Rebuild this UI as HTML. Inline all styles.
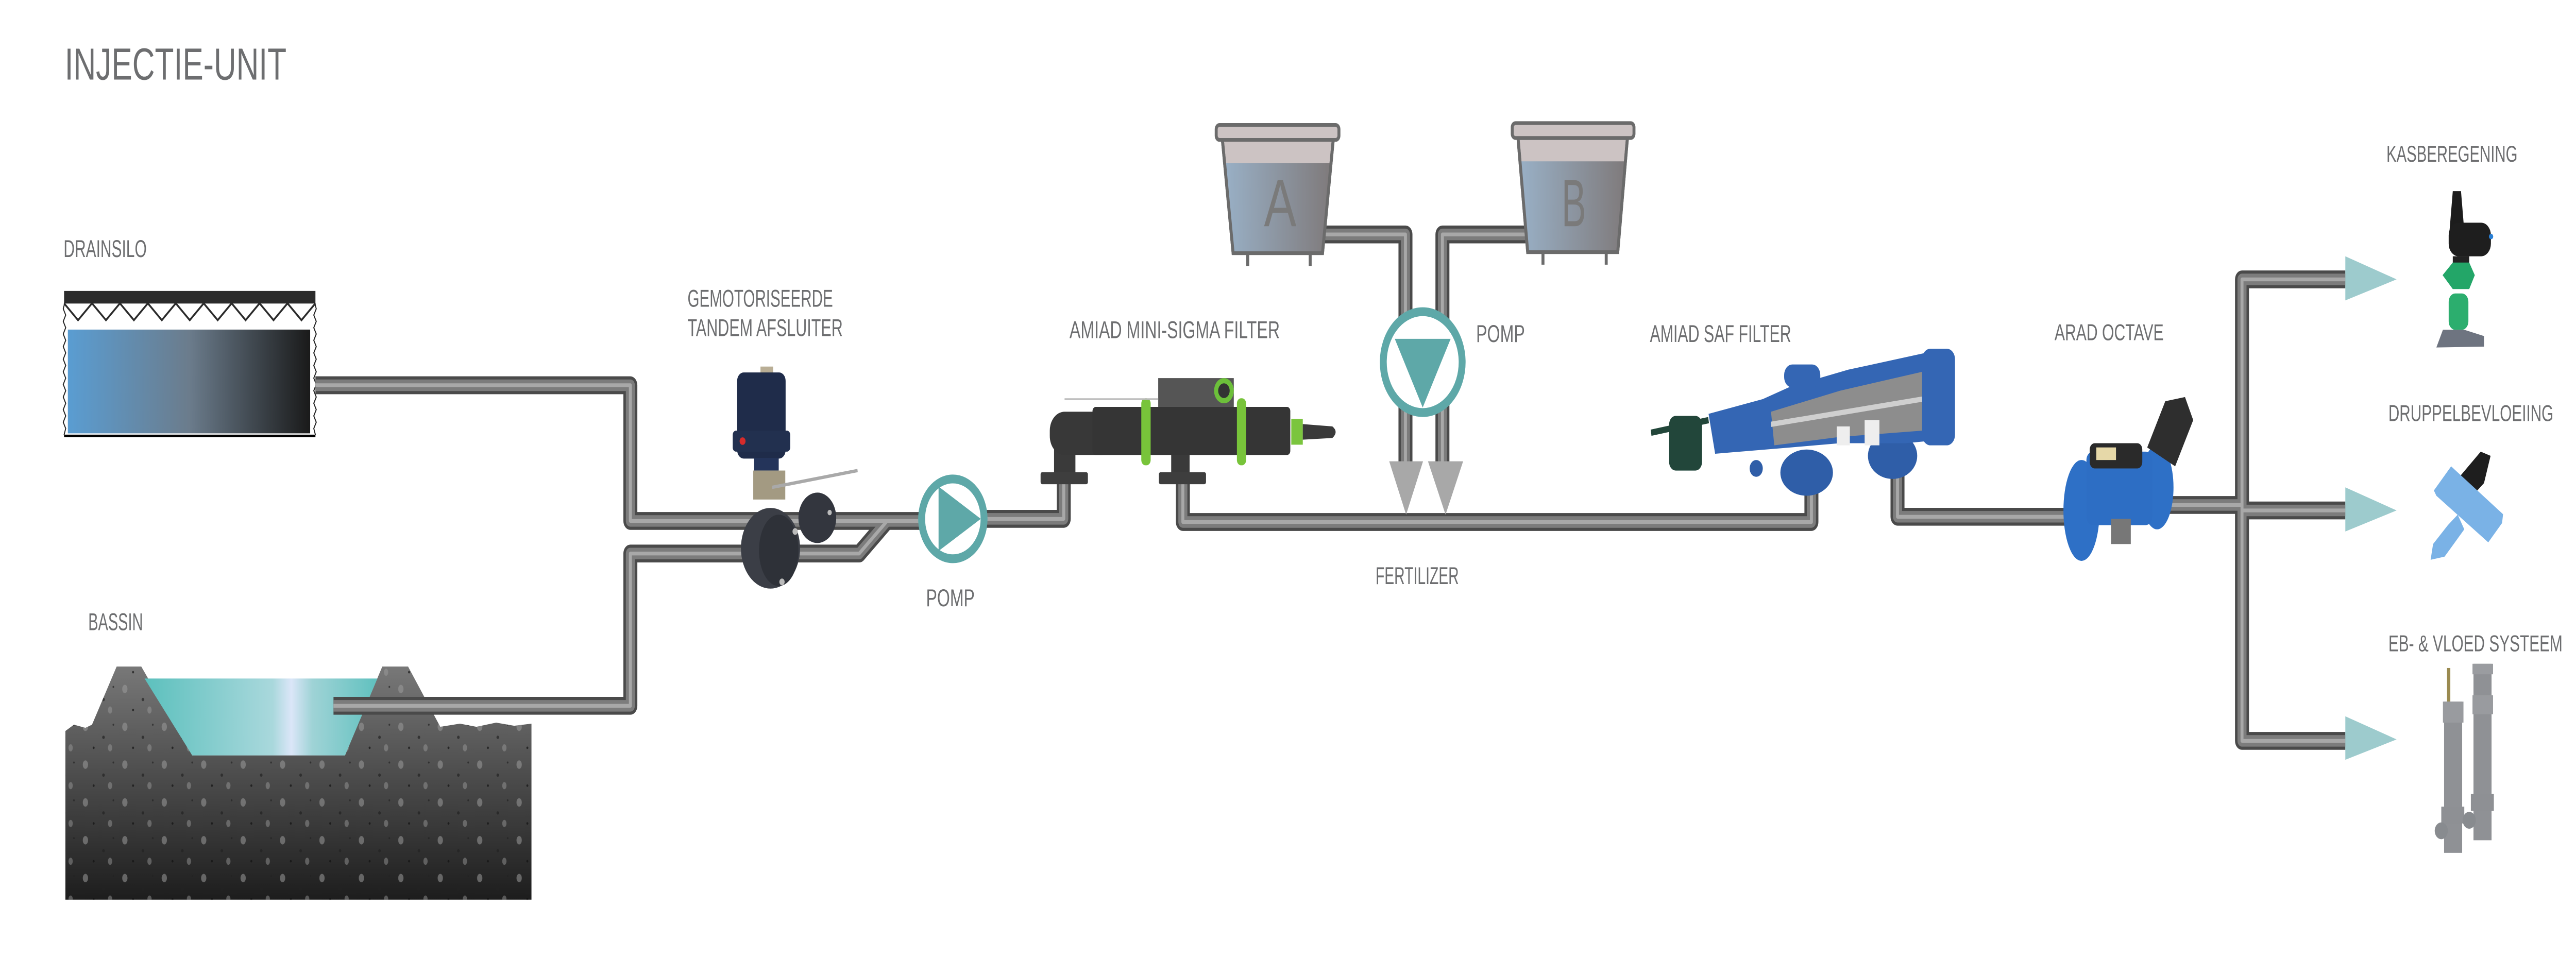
<!DOCTYPE html>
<html><head><meta charset="utf-8"><style>
html,body{margin:0;padding:0;background:#fff;width:100%;height:100%;overflow:hidden;}
svg{display:block;position:fixed;left:0;top:0;width:100vw;height:100vh;}
text{font-family:"Liberation Sans",sans-serif;fill:#6d6e70;}
</style></head><body>
<svg viewBox="0 0 1568 464.15" preserveAspectRatio="none" xmlns="http://www.w3.org/2000/svg">
<defs>
<linearGradient id="silo" x1="0" x2="1" y1="0" y2="0"><stop offset="0" stop-color="#5a9dd2"/><stop offset="0.5" stop-color="#6b7c8c"/><stop offset="1" stop-color="#1a1a1a"/></linearGradient>
<linearGradient id="water" x1="0" x2="1"><stop offset="0" stop-color="#5cc0bd"/><stop offset="0.55" stop-color="#a9d8dc"/><stop offset="0.63" stop-color="#dbe6f8"/><stop offset="0.72" stop-color="#9fd3d6"/><stop offset="1" stop-color="#60c1bf"/></linearGradient>
<linearGradient id="ground" x1="0" x2="0" y1="0" y2="1"><stop offset="0" stop-color="#787878"/><stop offset="0.45" stop-color="#4e4e4e"/><stop offset="1" stop-color="#1d1d1d"/></linearGradient>
<linearGradient id="tank" x1="0" x2="1"><stop offset="0" stop-color="#99b0c6"/><stop offset="1" stop-color="#7f7a7b"/></linearGradient>
<pattern id="dots" width="24" height="18" patternUnits="userSpaceOnUse">
<ellipse cx="4" cy="4" rx="1.6" ry="2" fill="#9a9a9a" opacity=".55"/>
<circle cx="15" cy="9" r="0.8" fill="#222" opacity=".7"/>
<ellipse cx="19" cy="14" rx="1.3" ry="1.7" fill="#a0a0a0" opacity=".45"/>
<circle cx="9" cy="14" r="0.6" fill="#111" opacity=".7"/>
<circle cx="21" cy="3" r="0.5" fill="#222" opacity=".7"/>
</pattern>
</defs>

<text x="39.4" y="37.9" font-size="21.5" textLength="135" lengthAdjust="spacingAndGlyphs">INJECTIE-UNIT</text>

<text x="38.7" y="122.3" font-size="11.5" textLength="50.6" lengthAdjust="spacingAndGlyphs">DRAINSILO</text>
<text x="418.5" y="146" font-size="11.5" textLength="88.5" lengthAdjust="spacingAndGlyphs">GEMOTORISEERDE</text>
<text x="418.5" y="160" font-size="11.5" textLength="94.5" lengthAdjust="spacingAndGlyphs">TANDEM AFSLUITER</text>
<text x="53.7" y="300" font-size="11.5" textLength="33.3" lengthAdjust="spacingAndGlyphs">BASSIN</text>
<text x="563.7" y="288.6" font-size="11.5" textLength="29.6" lengthAdjust="spacingAndGlyphs">POMP</text>
<text x="651" y="161" font-size="11.5" textLength="128" lengthAdjust="spacingAndGlyphs">AMIAD MINI-SIGMA FILTER</text>
<text x="898.5" y="162.8" font-size="11.5" textLength="29.7" lengthAdjust="spacingAndGlyphs">POMP</text>
<text x="1004.3" y="162.8" font-size="11.5" textLength="86" lengthAdjust="spacingAndGlyphs">AMIAD SAF FILTER</text>
<text x="837.3" y="278" font-size="11.5" textLength="50.7" lengthAdjust="spacingAndGlyphs">FERTILIZER</text>
<text x="1250.6" y="162" font-size="11" textLength="66.4" lengthAdjust="spacingAndGlyphs">ARAD OCTAVE</text>
<text x="1452.6" y="77" font-size="11" textLength="79.8" lengthAdjust="spacingAndGlyphs">KASBEREGENING</text>
<text x="1453.8" y="200.4" font-size="11" textLength="100.5" lengthAdjust="spacingAndGlyphs">DRUPPELBEVLOEIING</text>
<text x="1453.8" y="310" font-size="11" textLength="106" lengthAdjust="spacingAndGlyphs">EB- &amp; VLOED SYSTEEM</text>

<rect x="39" y="138.5" width="153" height="6" fill="#2b2b2b"/>
<polyline points="39,144.4 47.5,152.4 56,144.4 64.5,152.4 73,144.4 81.5,152.4 90,144.4 98.5,152.4 107,144.4 115.5,152.4 124,144.4 132.5,152.4 141,144.4 149.5,152.4 158,144.4 166.5,152.4 175,144.4 183.5,152.4 192,144.4" fill="none" stroke="#2b2b2b" stroke-width="1"/>
<rect x="41.3" y="156.9" width="147.5" height="49.4" fill="url(#silo)"/>
<line x1="39" y1="207.5" x2="192" y2="207.5" stroke="#000" stroke-width="1.2"/>
<polyline points="39.5,144 38.5,147 40,150 38.5,153 40,156 38.5,159 40,162 38.5,165 40,168 38.5,171 40,174 38.5,177 40,180 38.5,183 40,186 38.5,189 40,192 38.5,195 40,198 38.5,201 40,204 39,207" fill="none" stroke="#222" stroke-width=".6"/>
<polyline points="191.5,144 192.5,147 191,150 192.5,153 191,156 192.5,159 191,162 192.5,165 191,168 192.5,171 191,174 192.5,177 191,180 192.5,183 191,186 192.5,189 191,192 192.5,195 191,198 192.5,201 191,204 192,207" fill="none" stroke="#222" stroke-width=".6"/>

<path d="M39.8,348 L45,345 L52,346.5 L56,345 L71,317.3 L86,317.3 L117,359.6 L210,359.6 L232.7,317.3 L248.4,317.3 L268,346 L280,344.5 L290,346 L302,344 L313,345.5 L323.5,344.5 L323.5,428.3 L39.8,428.3 Z" fill="url(#ground)"/>
<path d="M39.8,348 L45,345 L52,346.5 L56,345 L71,317.3 L86,317.3 L117,359.6 L210,359.6 L232.7,317.3 L248.4,317.3 L268,346 L280,344.5 L290,346 L302,344 L313,345.5 L323.5,344.5 L323.5,428.3 L39.8,428.3 Z" fill="url(#dots)"/>
<polygon points="88,323 229.7,323 210,359.6 117,359.6" fill="url(#water)"/>

<g fill="none" stroke-linejoin="round" stroke-linecap="butt">
<g stroke="#4a4a4a" stroke-width="8.5">
<path d="M192,183.4 H383.7 V248 H560"/>
<path d="M203,336 H383.7 V263.5 H523 L540,248"/>
<path d="M600,247 H647.5 V229"/>
<path d="M720,229 V248.5 H1102.6 V230"/>
<path d="M803,111.6 H855.5 V220"/>
<path d="M931,111.6 H878 V220"/>
<path d="M1155,225 V246 H1262"/>
<path d="M1318,240.4 H1364.7"/>
<path d="M1427.6,133 H1364.7 V352.7 H1427.6"/>
<path d="M1364.7,243 H1427.6"/>
</g>
<g stroke="#7c7c7c" stroke-width="5.5">
<path d="M192,183.4 H383.7 V248 H560"/>
<path d="M203,336 H383.7 V263.5 H523 L540,248"/>
<path d="M600,247 H647.5 V229"/>
<path d="M720,229 V248.5 H1102.6 V230"/>
<path d="M803,111.6 H855.5 V220"/>
<path d="M931,111.6 H878 V220"/>
<path d="M1155,225 V246 H1262"/>
<path d="M1318,240.4 H1364.7"/>
<path d="M1427.6,133 H1364.7 V352.7 H1427.6"/>
<path d="M1364.7,243 H1427.6"/>
</g>
<g stroke="#a8a8a8" stroke-width="1.8">
<path d="M192,183.4 H383.7 V248 H560"/>
<path d="M203,336 H383.7 V263.5 H523 L540,248"/>
<path d="M600,247 H647.5 V229"/>
<path d="M720,229 V248.5 H1102.6 V230"/>
<path d="M803,111.6 H855.5 V220"/>
<path d="M931,111.6 H878 V220"/>
<path d="M1155,225 V246 H1262"/>
<path d="M1318,240.4 H1364.7"/>
<path d="M1427.6,133 H1364.7 V352.7 H1427.6"/>
<path d="M1364.7,243 H1427.6"/>
</g>
</g>

<rect x="462.9" y="174.5" width="7.7" height="4" fill="#b9ae95"/>
<rect x="448.7" y="177.3" width="29.5" height="41" rx="4" fill="#1f2c4a"/>
<rect x="446" y="205" width="35" height="10" rx="2" fill="#22304f"/>
<circle cx="452" cy="210" r="1.8" fill="#d62b2b"/>
<rect x="459" y="218" width="15" height="6" fill="#24345a"/>
<rect x="458.5" y="224" width="19.5" height="13.8" fill="#a39a82"/>
<line x1="470" y1="232" x2="522" y2="224" stroke="#a9a9a9" stroke-width="1.6"/>
<ellipse cx="469" cy="261" rx="18" ry="19.2" fill="#3b3e46"/>
<ellipse cx="474" cy="262" rx="12" ry="17" fill="#2e3138"/>
<ellipse cx="497.5" cy="246.5" rx="11.5" ry="12" fill="#33363e"/>
<circle cx="484" cy="253" r="1.6" fill="#bbb"/><circle cx="476" cy="277" r="1.6" fill="#bbb"/><circle cx="505" cy="244" r="1.3" fill="#bbb"/>

<circle cx="580" cy="247" r="19" fill="#fff" stroke="#5ea8a8" stroke-width="4.2"/>
<polygon points="571.3,231.6 571.3,262.3 597,247" fill="#5ea8a8"/>

<rect x="641.6" y="210" width="13" height="15" fill="#3a3a3a"/>
<rect x="633.4" y="224.8" width="28.8" height="5.7" rx="1" fill="#3e3e3e"/>
<rect x="712.9" y="212" width="11.2" height="13" fill="#3a3a3a"/>
<rect x="705.4" y="224.8" width="28.7" height="5.7" rx="1" fill="#3e3e3e"/>
<rect x="639" y="196" width="40" height="20.6" rx="9" fill="#383838"/>
<rect x="665" y="193.7" width="120.4" height="22.9" rx="2" fill="#353535"/>
<rect x="705" y="180" width="46" height="13.7" fill="#555"/>
<circle cx="745" cy="186" r="6" fill="#6cbf3a"/>
<circle cx="745" cy="186" r="3.5" fill="#333"/>
<rect x="694.7" y="189.6" width="5.7" height="31.9" rx="2.5" fill="#78c43a"/>
<rect x="752.9" y="189.6" width="5.6" height="31.9" rx="2.5" fill="#78c43a"/>
<rect x="786" y="199.4" width="7" height="12.3" fill="#7bc53e"/>
<path d="M793,201.9 L811,203 Q815,205.6 811,208.5 L793,209.3 Z" fill="#3a3a3a"/>
<line x1="648" y1="190" x2="705" y2="190" stroke="#bbb" stroke-width=".8"/>

<g stroke="#6b6b6b" stroke-width="1.8">
<polygon points="744,66 811.6,66 805,120.5 750.6,120.5" fill="#ccc3c3"/>
<polygon points="745.2,77.6 810.4,77.6 805,120.5 750.6,120.5" fill="url(#tank)" stroke="none"/>
<polygon points="744,66 811.6,66 805,120.5 750.6,120.5" fill="none"/>
<rect x="740.3" y="59.5" width="74.7" height="7.1" rx="2" fill="#ccc3c3"/>
<line x1="759.5" y1="120.5" x2="759.5" y2="126.6"/><line x1="797.5" y1="120.5" x2="797.5" y2="126.6"/>
<polygon points="924,65.7 990.6,65.7 984.7,120 929.9,120" fill="#ccc3c3"/>
<polygon points="925,76.8 989.6,76.8 984.7,120 929.9,120" fill="url(#tank)" stroke="none"/>
<polygon points="924,65.7 990.6,65.7 984.7,120 929.9,120" fill="none"/>
<rect x="920.5" y="58.6" width="74.1" height="7.1" rx="2" fill="#ccc3c3"/>
<line x1="939.2" y1="120" x2="939.2" y2="126"/><line x1="977.7" y1="120" x2="977.7" y2="126"/>
</g>
<text x="769.4" y="107.7" font-size="32" textLength="19.7" lengthAdjust="spacingAndGlyphs" style="fill:#7a7a7a">A</text>
<text x="950.5" y="107.7" font-size="32" textLength="15" lengthAdjust="spacingAndGlyphs" style="fill:#7a7a7a">B</text>

<circle cx="866" cy="172.4" r="24" fill="#fff" stroke="#5ea8a8" stroke-width="4.2"/>
<polygon points="849,161.3 883,161.3 866,194" fill="#5ea8a8"/>
<polygon points="845.6,219.6 866.2,219.6 855.9,245" fill="#a8a8a8"/>
<polygon points="869.2,219.6 890.6,219.6 879.9,245" fill="#a8a8a8"/>

<ellipse cx="1099.7" cy="225" rx="16" ry="11" fill="#2f5ea8"/>
<ellipse cx="1152" cy="217" rx="15" ry="11" fill="#2f5ea8"/>
<polygon points="1040,197 1073,190 1090,184 1125,176 1172,168 1185,168 1186,209 1160,211 1120,211 1090,213 1044,216" fill="#3466b4"/>
<polygon points="1078,196 1120,186 1170,177 1170,205 1120,208 1080,212" fill="#8d8d8d"/>
<line x1="1078" y1="202" x2="1170" y2="190" stroke="#cfcfcf" stroke-width="2.5"/>
<rect x="1086" y="173.5" width="22" height="11" rx="5" fill="#3466b4"/>
<rect x="1170" y="166" width="20" height="46" rx="5" fill="#3466b4"/>
<rect x="1118" y="203" width="8" height="9" fill="#eee"/><rect x="1135" y="200" width="9" height="12" fill="#eee"/>
<rect x="1016" y="198" width="20" height="26" rx="4" fill="#22463a"/>
<line x1="1005" y1="206" x2="1040" y2="200" stroke="#22463a" stroke-width="3"/>
<circle cx="1069" cy="223" r="4" fill="#2f5ea8"/>

<ellipse cx="1267" cy="243" rx="11" ry="24" fill="#2e70c6"/>
<ellipse cx="1313" cy="232" rx="10" ry="20" fill="#2e70c6"/>
<rect x="1270" y="215" width="40" height="35" rx="4" fill="#2d6ec4"/>
<rect x="1272" y="211" width="32" height="12" rx="3" fill="#2a2a2a"/>
<rect x="1276" y="213" width="12" height="6" fill="#e6d8a8"/>
<polygon points="1307,213 1318,191 1330,189 1335,200 1324,222" fill="#2e2e2e"/>
<rect x="1285" y="247" width="12" height="12" fill="#777"/>

<polygon points="1427.6,122 1458.8,133 1427.6,143" fill="#9dcbcd"/>
<polygon points="1427.6,232 1458.8,243 1427.6,253" fill="#9dcbcd"/>
<polygon points="1427.6,341 1458.8,352 1427.6,361.7" fill="#9dcbcd"/>

<polygon points="1493,91 1498,91 1500,110 1491,110" fill="#1c1c1c"/>
<rect x="1490.5" y="106" width="25.7" height="16" rx="6" fill="#1e1e1e"/>
<circle cx="1516.3" cy="112.6" r="1.3" fill="#2a7fd4"/>
<rect x="1493" y="122" width="10" height="4" fill="#222"/>
<polygon points="1486.8,131 1493,125 1503,125 1506.4,131 1503,137.6 1493,137.6" fill="#23a668"/>
<rect x="1490.5" y="139.7" width="12" height="17.3" rx="4" fill="#2cae6e"/>
<polygon points="1483,165.4 1487,157 1500,157 1512,160 1512,165" fill="#6e7480"/>

<polygon points="1496,228 1510,215 1516,217 1512,230 1505,236" fill="#1e1e1e"/>
<polygon points="1481.5,233.5 1492,222 1523.6,244.8 1523,249 1514.6,258.2 1483,236" fill="#7ab2e6"/>
<polygon points="1490,250 1496,245 1500,252 1488,265 1479.5,266.5 1481,259" fill="#7ab2e6"/>

<rect x="1489.5" y="318" width="2" height="16" fill="#9a8a50"/>
<rect x="1487.7" y="334" width="11" height="72" fill="#8f9195"/>
<rect x="1487" y="334" width="12.5" height="10" fill="#999b9f"/>
<rect x="1486" y="384" width="14" height="8" fill="#8e9094"/>
<ellipse cx="1486" cy="395.5" rx="4" ry="4" fill="#888b8f"/>
<rect x="1505.6" y="316" width="11" height="84" fill="#8f9195"/>
<rect x="1505" y="316" width="12.5" height="5" fill="#9a9ca0"/>
<rect x="1505" y="331" width="12.5" height="9" fill="#999b9f"/>
<rect x="1504" y="378" width="14" height="8" fill="#8e9094"/>
<ellipse cx="1503" cy="390.5" rx="4" ry="4" fill="#888b8f"/>
</svg>
</body></html>
